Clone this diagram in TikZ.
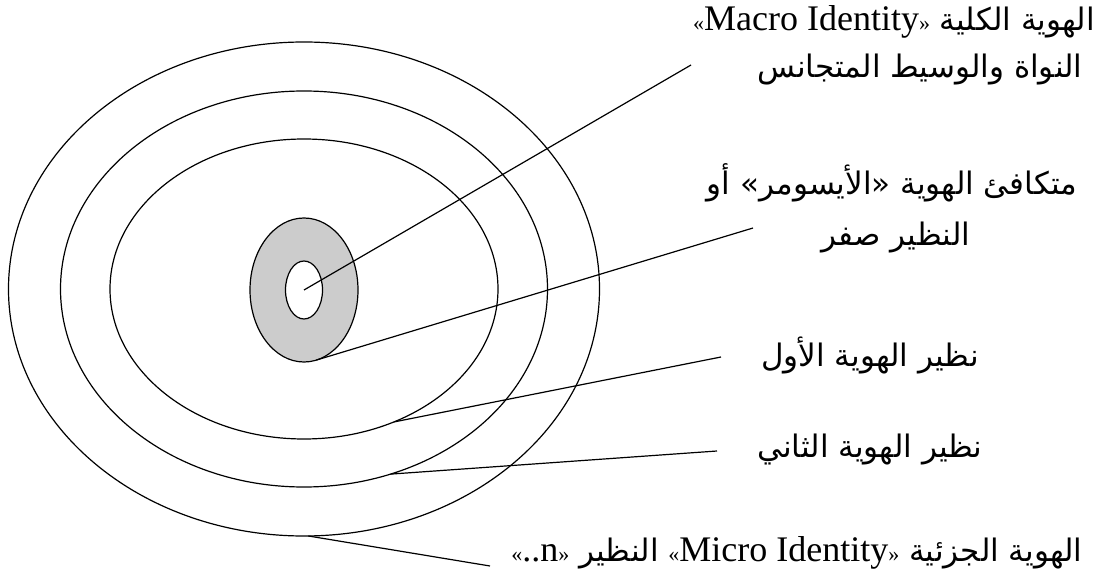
\documentclass[tikz,border=0pt]{standalone}
\usepackage{fontspec}
\usetikzlibrary{positioning,shapes.geometric}
\TeXXeTstate=1
\newfontfamily\arabicfont[Script=Arabic]{DejaVu Sans}
\newfontfamily\latinfont{Liberation Serif}
\definecolor{cCore}{HTML}{CCCCCC}
\tikzset{
  ring/.style={ellipse,draw=black,line width=1.2pt,inner sep=0pt,outer sep=0pt},
  lbl/.style={font=\arabicfont\fontsize{31}{36}\selectfont,inner sep=0pt},
  lead/.style={line width=1.2pt},
}
\newcommand{\lat}[1]{{\latinfont\fontsize{36}{40}\selectfont #1}}
\newcommand{\gq}[1]{{\latinfont\fontsize{22}{22}\selectfont #1}}

\begin{document}
\begin{tikzpicture}[x=1pt,y=-1pt]
  \useasboundingbox (0,0) rectangle (1101,580);
  % rings, outer to inner
  \node[ring,minimum width=591,minimum height=494] (rOut) at (304,289) {};
  \node[ring,minimum width=487,minimum height=396] (rMid) at (304,289) {};
  \node[ring,minimum width=388,minimum height=300] (rIn) at (304,289) {};
  \node[ring,fill=cCore,minimum width=108,minimum height=144] (core) at (304,290) {};
  \node[ring,fill=white,minimum width=37,minimum height=58] (hole) at (304,290) {};
  % labels
  \node[lbl] (lblMacro) at (894,22) {\gq{«}\lat{Macro Identity}\gq{»} \beginR الهوية الكلية\endR};
  \node[lbl] (lblCore) at (920,70) {\beginR النواة والوسيط المتجانس\endR};
  \node[lbl] (lblIso) at (892,183) {\beginR متكافئ الهوية «الأيسومر» أو\endR};
  \node[lbl] (lblZero) at (896,238) {\beginR النظير صفر\endR};
  \node[lbl] (lblFirst) at (870,355) {\beginR نظير الهوية الأول\endR};
  \node[lbl] (lblSecond) at (870,450) {\beginR نظير الهوية الثاني\endR};
  \node[lbl] (lblMicro) at (797,553) {\gq{«}\lat{..n}\gq{»} \beginR النظير\endR{} \gq{«}\lat{Micro Identity}\gq{»} \beginR الهوية الجزئية\endR};
  % leader ends
  \coordinate (eMacro) at (691,65);
  \coordinate (eIso) at (753,228);
  \coordinate (eFirst) at (721,357);
  \coordinate (eSecond) at (717,451);
  \coordinate (eMicro) at (490,566);
  % leaders
  \draw[lead] (hole.center) -- (eMacro);
  \draw[lead] (core.-80) -- (eIso);
  \draw[lead] (rIn.-56) -- (eFirst);
  \draw[lead] (rMid.-65) -- (eSecond);
  \draw[lead] (rOut.-89) -- (eMicro);
\end{tikzpicture}
\end{document}
